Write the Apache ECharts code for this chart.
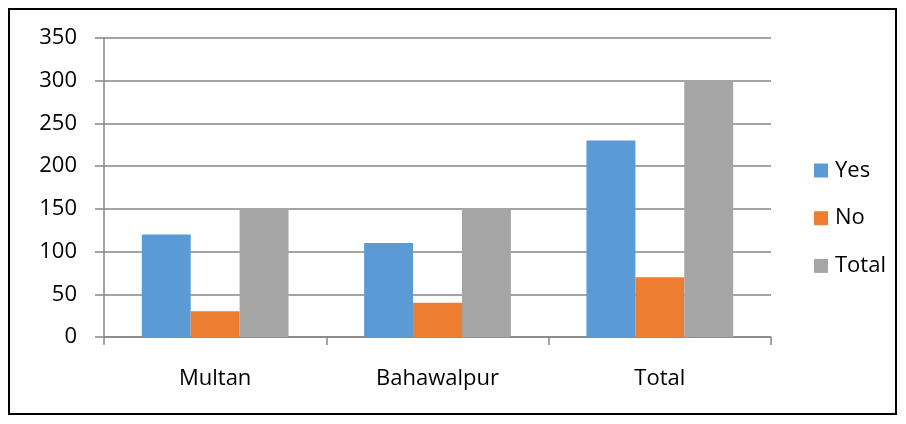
<!DOCTYPE html>
<html>
<head>
<meta charset="utf-8">
<script src="https://cdn.jsdelivr.net/npm/echarts@6/dist/echarts.min.js"></script>
<style>
  html, body { margin: 0; padding: 0; background: #fff; }
  #chart { width: 906px; height: 424px; }
</style>
</head>
<body>
<div id="chart"></div>
<script>
var categories = ['Multan', 'Bahawalpur', 'Total'];
var yesValues = [120, 110, 230];
var noValues = [30, 40, 70];
var totalValues = [150, 150, 300];

var axisGrey = '#868686';
var font = 'Open Sans';

var chart = echarts.init(document.getElementById('chart'));
var option = {
    animation: false,
    textStyle: { fontFamily: font },
    graphic: [{
        type: 'rect',
        shape: { x: 9, y: 9, width: 887, height: 405 },
        style: { fill: 'none', stroke: '#000', lineWidth: 2 }
    }],
    grid: { left: 104, right: 135, top: 38, bottom: 87 },
    legend: {
        orient: 'vertical',
        left: 814,
        top: 159.5,
        padding: 0,
        itemWidth: 14,
        itemHeight: 14,
        itemGap: 25.7,
        icon: 'rect',
        textStyle: { fontSize: 22, color: '#000', fontFamily: font, lineHeight: 16, padding: [0, 0, 0, 2] },
        data: ['Yes', 'No', 'Total']
    },
    xAxis: {
        type: 'category',
        data: categories,
        axisLine: { lineStyle: { color: axisGrey, width: 1.5 } },
        axisTick: { show: true, length: 8, lineStyle: { color: axisGrey, width: 1.5 } },
        axisLabel: { fontSize: 22, color: '#000', margin: 31, fontFamily: font }
    },
    yAxis: {
        type: 'value',
        min: 0,
        max: 350,
        interval: 50,
        axisLine: { show: true, lineStyle: { color: axisGrey, width: 1.5 } },
        axisTick: { show: true, length: 9, lineStyle: { color: axisGrey, width: 1.5 } },
        axisLabel: { fontSize: 22, color: '#000', margin: 27, fontFamily: font },
        splitLine: { lineStyle: { color: axisGrey, width: 1.5 } }
    },
    series: [
        { name: 'Yes', type: 'bar', data: yesValues, itemStyle: { color: '#5B9BD5' }, barGap: '0%', barCategoryGap: '34%' },
        { name: 'No', type: 'bar', data: noValues, itemStyle: { color: '#ED7D31' }, barGap: '0%', barCategoryGap: '34%' },
        { name: 'Total', type: 'bar', data: totalValues, itemStyle: { color: '#A5A5A5' }, barGap: '0%', barCategoryGap: '34%' }
    ]
};
chart.setOption(option);
</script>
</body>
</html>
